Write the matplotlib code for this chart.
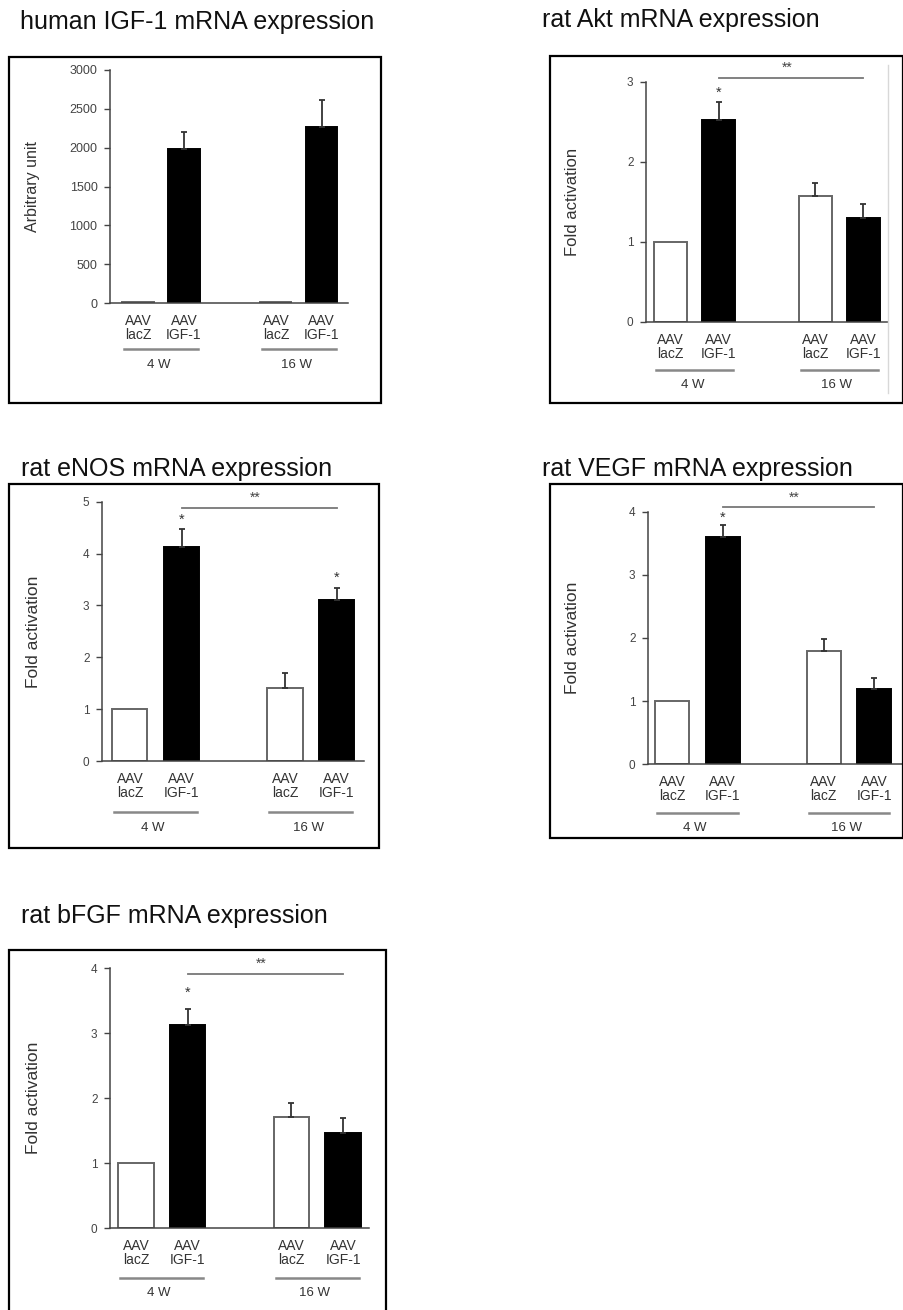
import matplotlib.pyplot as plt
import matplotlib.transforms as mtransforms
from matplotlib.patches import Rectangle

plt.rcParams['font.family'] = ['Liberation Sans', 'DejaVu Sans']

# data
groups = ['4 W', '16 W']
bar_labels = ['AAV\nlacZ', 'AAV\nIGF-1', 'AAV\nlacZ', 'AAV\nIGF-1']
bar_fill = ['white', 'black', 'white', 'black']

igf1_mean = [15, 1980, 15, 2270]
igf1_err = [0, 220, 0, 350]
akt_mean = [1.0, 2.52, 1.57, 1.30]
akt_err = [0, 0.23, 0.17, 0.17]
enos_mean = [1.0, 4.13, 1.41, 3.10]
enos_err = [0, 0.34, 0.28, 0.23]
vegf_mean = [1.0, 3.60, 1.80, 1.20]
vegf_err = [0, 0.19, 0.19, 0.17]
bfgf_mean = [1.0, 3.13, 1.72, 1.46]
bfgf_err = [0, 0.24, 0.21, 0.23]

W, H = 904, 1310
fig = plt.figure(figsize=(W / 100, H / 100), dpi=100)

pos = [0, 1, 3, 4]
group_pos = [0.5, 3.5]


def fx(x):
    return x / W


def fy(y):
    return 1 - y / H


def panel(title, title_xy, box, axis_px, ymax, yticks, means, errs, xlim,
          ylabel, ylab_dist, ylab_size=12.5, tick_size=8.5,
          stars=(), bracket=None, gl_off=48, gt_off=64):
    # frame around the panel
    bx0, by0, bx1, by1 = box
    fig.patches.append(Rectangle((fx(bx0), fy(by1)), (bx1 - bx0) / W, (by1 - by0) / H,
                                 transform=fig.transFigure, fill=False,
                                 ec='black', lw=1.6))
    fig.text(fx(title_xy[0]), fy(title_xy[1]), title, fontsize=18,
             ha='left', va='baseline', color='#111')

    x0, y0, x1, ytop = axis_px
    ax = fig.add_axes([fx(x0), fy(y0), (x1 - x0) / W, (y0 - ytop) / H])
    ax.set_xlim(*xlim)
    ax.set_ylim(0, ymax)

    ax.bar(pos, means, width=0.68, color=bar_fill,
           edgecolor=['#666', 'black', '#666', 'black'], linewidth=1.4, zorder=2)
    for p, m, e in zip(pos, means, errs):
        if e > 0:
            ax.errorbar(p, m, yerr=[[0], [e]], fmt='none', ecolor='#333',
                        elinewidth=1.3, capsize=2.5, capthick=1.3, zorder=3)

    for s in ['top', 'right']:
        ax.spines[s].set_visible(False)
    for s in ['left', 'bottom']:
        ax.spines[s].set_color('#444')
        ax.spines[s].set_linewidth(1.1)

    ax.set_yticks(yticks)
    ax.tick_params(axis='y', direction='out', length=4, width=1, colors='#444',
                   labelsize=tick_size, pad=5)
    ax.set_xticks(pos, bar_labels)
    ax.tick_params(axis='x', length=0, pad=8, labelsize=10, labelcolor='#333')
    for t in ax.get_xticklabels():
        t.set_linespacing(1.0)

    width_px = x1 - x0
    ax.text(-ylab_dist / width_px, 0.5, ylabel, rotation=90, transform=ax.transAxes,
            ha='center', va='center', fontsize=ylab_size, color='#333')

    # group underlines and labels below the bar labels
    trans = mtransforms.blended_transform_factory(ax.transData, ax.transAxes)
    line_t = trans + mtransforms.ScaledTranslation(0, -gl_off / 100, fig.dpi_scale_trans)
    text_t = trans + mtransforms.ScaledTranslation(0, -gt_off / 100, fig.dpi_scale_trans)
    for g, c in zip(groups, group_pos):
        ax.plot([c - 0.8, c + 0.8], [0, 0], transform=line_t, clip_on=False,
                color='#888', lw=1.8)
        ax.text(c - 0.05, 0, g, transform=text_t, ha='center', va='center',
                fontsize=9.5, color='#333')

    for sx, sy in stars:
        ax.text(sx, sy, '*', ha='center', va='center', fontsize=10.5, color='#333')

    if bracket is not None:
        ax.plot([1, 4], [bracket, bracket], color='#777', lw=1.3, clip_on=False)
        ax.annotate('**', (2.42, bracket), xytext=(0, 7), textcoords='offset points',
                    ha='center', va='center', fontsize=10, color='#444',
                    annotation_clip=False)
    return ax


panel('human IGF-1 mRNA expression', (20, 29), (9, 57, 381, 403),
      (110, 303, 348, 70), 3000, range(0, 3001, 500), igf1_mean, igf1_err,
      (-0.61, 4.57), 'Arbitrary unit', 77, ylab_size=11.5, tick_size=9,
      gl_off=46, gt_off=62)

ax2 = panel('rat Akt mRNA expression', (542, 27), (550, 56, 903, 403),
            (646, 322, 888, 81.7), 3, range(0, 4), akt_mean, akt_err,
            (-0.51, 4.51), 'Fold activation', 73, ylab_size=12,
            stars=[(1, 2.86)], bracket=3.05, gl_off=48, gt_off=63)
# faint edge of the pasted image in the Akt panel
fig.add_artist(plt.Line2D([fx(888), fx(888)], [fy(65), fy(393)],
                          transform=fig.transFigure, color='#d8d8d8', lw=1))

panel('rat eNOS mRNA expression', (21, 476), (9, 484, 379, 848),
      (102, 761, 364, 501.7), 5, range(0, 6), enos_mean, enos_err,
      (-0.54, 4.53), 'Fold activation', 69,
      stars=[(1, 4.66), (4, 3.53)], bracket=4.88, gl_off=50.7, gt_off=67)

panel('rat VEGF mRNA expression', (542, 476), (550, 484, 903, 838),
      (648, 764.3, 902, 511.7), 4, range(0, 5), vegf_mean, vegf_err,
      (-0.48, 4.55), 'Fold activation', 75,
      stars=[(1, 3.90)], bracket=4.07, gl_off=48.7, gt_off=64)

panel('rat bFGF mRNA expression', (21, 923), (9, 950, 386, 1330),
      (110, 1228.3, 369, 968.3), 4, range(0, 5), bfgf_mean, bfgf_err,
      (-0.5, 4.5), 'Fold activation', 77,
      stars=[(1, 3.62)], bracket=3.92, gl_off=49.4, gt_off=65)

plt.savefig('out.png', dpi=100)
